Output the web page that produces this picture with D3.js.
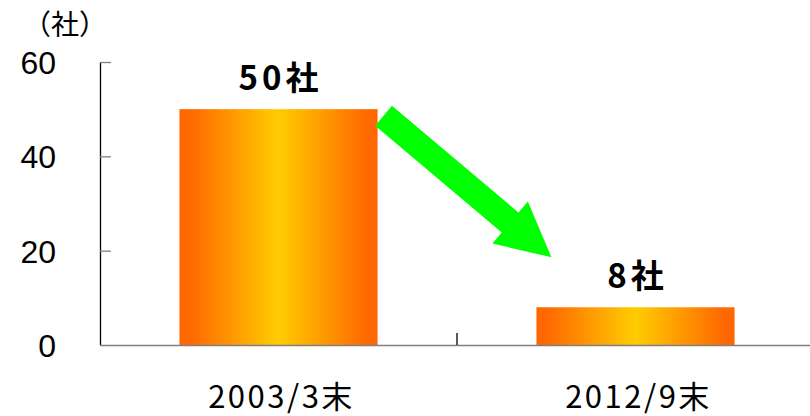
<!DOCTYPE html>
<html>
<head>
<meta charset="utf-8">
<script src="https://cdn.jsdelivr.net/npm/d3@7"></script>
<style>
  html, body { margin: 0; padding: 0; background: #fff; }
  svg { display: block; }
</style>
</head>
<body>
<svg id="chart" width="810" height="416"></svg>
<script>
// data
const categories = ["2003/3末", "2012/9末"];
const values = [50, 8];
const valueLabels = ["50社", "8社"];
const yTicks = [0, 20, 40, 60];
const unitLabel = "（社）";

const width = 810;
const height = 416;
const margin = { left: 100, right: -4, top: 62, bottom: 71 };

const svg = d3.select("#chart");

const x = d3.scaleBand()
    .domain(categories)
    .range([margin.left, width - margin.right]);

const y = d3.scaleLinear()
    .domain([0, 60])
    .range([height - margin.bottom, margin.top]);

const barWidth = x.bandwidth() * 0.555;
const barX = (d) => x(d) + (x.bandwidth() - barWidth) / 2;

// gradient for bars
const defs = svg.append("defs");
const grad = defs.append("linearGradient")
    .attr("id", "barGrad")
    .attr("x1", "0%").attr("x2", "100%")
    .attr("y1", "0%").attr("y2", "0%");
grad.append("stop").attr("offset", "0%").attr("stop-color", "#ff6600");
grad.append("stop").attr("offset", "6%").attr("stop-color", "#ff6a00");
grad.append("stop").attr("offset", "50%").attr("stop-color", "#ffcc00");
grad.append("stop").attr("offset", "94%").attr("stop-color", "#ff6a00");
grad.append("stop").attr("offset", "100%").attr("stop-color", "#ff6600");

// y axis
svg.append("line")
    .attr("x1", margin.left + 0.5).attr("x2", margin.left + 0.5)
    .attr("y1", y(60)).attr("y2", y(0))
    .attr("stroke", "#000").attr("stroke-width", 1.3);

svg.append("g")
    .selectAll("line")
    .data(yTicks.filter((d) => d > 0))
    .enter()
    .append("line")
    .attr("x1", margin.left).attr("x2", margin.left + 11)
    .attr("y1", (d) => y(d) + 0.5).attr("y2", (d) => y(d) + 0.5)
    .attr("stroke", "#808080").attr("stroke-width", 1.3);

svg.append("g")
    .selectAll("text")
    .data(yTicks)
    .enter()
    .append("text")
    .attr("x", 56)
    .attr("y", (d) => y(d) + 12)
    .attr("text-anchor", "end")
    .attr("font-family", "Liberation Sans, Arial, sans-serif")
    .attr("font-size", "32px")
    .attr("fill", "#000")
    .text((d) => d);

// unit label
svg.append("text")
    .attr("x", 65)
    .attr("y", 35)
    .attr("text-anchor", "middle")
    .attr("font-family", "Noto Sans CJK JP, sans-serif")
    .attr("font-size", "28px")
    .attr("fill", "#000")
    .text(unitLabel);

// bars
svg.append("g")
    .selectAll("rect")
    .data(categories)
    .enter()
    .append("rect")
    .attr("x", (d) => barX(d))
    .attr("y", (d, i) => y(values[i]))
    .attr("width", barWidth)
    .attr("height", (d, i) => y(0) - y(values[i]))
    .attr("fill", "url(#barGrad)");

// x axis
svg.append("line")
    .attr("x1", margin.left).attr("x2", width)
    .attr("y1", y(0) + 0.5).attr("y2", y(0) + 0.5)
    .attr("stroke", "#808080").attr("stroke-width", 1.6);

svg.append("line")
    .attr("x1", x(categories[1])).attr("x2", x(categories[1]))
    .attr("y1", y(0) - 12).attr("y2", y(0))
    .attr("stroke", "#000").attr("stroke-width", 1.3);

svg.append("g")
    .selectAll("text")
    .data(categories)
    .enter()
    .append("text")
    .attr("x", (d) => x(d) + x.bandwidth() / 2 + 3)
    .attr("y", 408)
    .attr("text-anchor", "middle")
    .attr("font-family", "Noto Sans CJK JP, sans-serif")
    .attr("font-size", "31px")
    .attr("letter-spacing", "2.5px")
    .attr("fill", "#000")
    .text((d) => d);

// value labels
svg.append("g")
    .selectAll("text")
    .data(categories)
    .enter()
    .append("text")
    .attr("x", (d) => x(d) + x.bandwidth() / 2 + 2)
    .attr("y", (d, i) => y(values[i]) - 19)
    .attr("text-anchor", "middle")
    .attr("font-family", "Noto Sans CJK JP, sans-serif")
    .attr("font-weight", "bold")
    .attr("font-size", "33px")
    .attr("letter-spacing", "4px")
    .attr("fill", "#000")
    .text((d, i) => valueLabels[i]);

// arrow from first bar to second
const start = [barX(categories[0]) + barWidth + 6, y(48.6)];
const end = [barX(categories[1]) + 15, y(18.6)];
const len = Math.hypot(end[0] - start[0], end[1] - start[1]);
const angle = Math.atan2(end[1] - start[1], end[0] - start[0]) * 180 / Math.PI;
const shaftW = 26, headW = 55, headL = 54;
const arrowPts = [
    [0, -shaftW / 2], [len - headL, -shaftW / 2], [len - headL, -headW / 2],
    [len, 0],
    [len - headL, headW / 2], [len - headL, shaftW / 2], [0, shaftW / 2]
];
svg.append("polygon")
    .attr("points", arrowPts.map((p) => p.join(",")).join(" "))
    .attr("transform", `translate(${start[0]},${start[1]}) rotate(${angle})`)
    .attr("fill", "#00ff00");
</script>
</body>
</html>
